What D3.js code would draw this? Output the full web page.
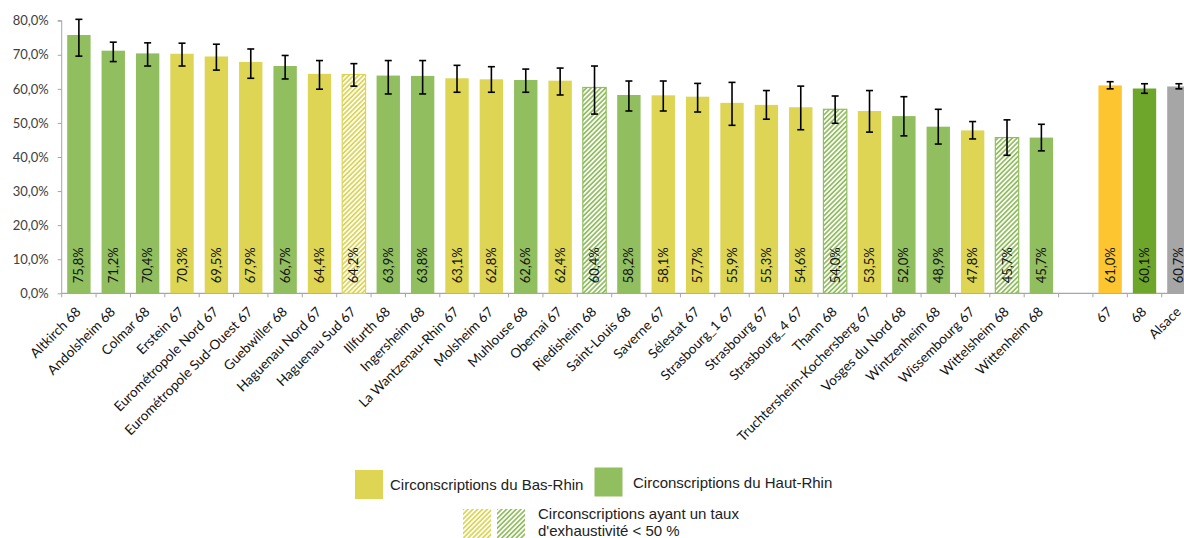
<!DOCTYPE html>
<html><head><meta charset="utf-8">
<script src="https://cdn.jsdelivr.net/npm/d3@7"></script>
<style>
html,body{margin:0;padding:0;background:#fff;}
svg{display:block;}
</style></head>
<body>
<svg id="chart" width="1184" height="538"></svg>
<script>
// ---- data ----
const categories = ["Altkirch 68","Andolsheim 68","Colmar 68","Erstein 67","Eurométropole Nord 67","Eurométropole Sud-Ouest 67","Guebwiller 68","Haguenau Nord 67","Haguenau Sud 67","Illfurth 68","Ingersheim 68","La Wantzenau-Rhin 67","Molsheim 67","Muhlouse 68","Obernai 67","Riedisheim 68","Saint-Louis 68","Saverne 67","Sélestat 67","Strasbourg_1 67","Strasbourg 67","Strasbourg_4 67","Thann 68","Truchtersheim-Kochersberg 67","Vosges du Nord 68","Wintzenheim 68","Wissembourg 67","Wittelsheim 68","Wittenheim 68","","67","68","Alsace"];
const values = [75.8,71.2,70.4,70.3,69.5,67.9,66.7,64.4,64.2,63.9,63.8,63.1,62.8,62.6,62.4,60.4,58.2,58.1,57.7,55.9,55.3,54.6,54.0,53.5,52.0,48.9,47.8,45.7,45.7,null,61.0,60.1,60.7];
const errLow  = [69.6,68.0,66.7,66.7,65.5,63.1,62.9,59.9,60.8,58.5,58.5,59.0,59.0,59.0,58.2,52.6,53.5,53.5,53.2,49.3,51.1,48.0,49.9,47.3,46.2,43.8,45.3,40.5,41.8,null,60.0,58.7,60.0];
const errHigh = [80.4,73.7,73.5,73.4,73.1,71.7,69.8,68.3,67.4,68.3,68.3,66.9,66.5,65.8,66.1,66.7,62.3,62.3,61.6,61.9,59.5,60.8,57.9,59.5,57.7,54.0,50.4,50.9,49.6,null,62.1,61.5,61.5];
// group: B = Bas-Rhin, H = Haut-Rhin, T67/T68/TA = totals
const groups = ["H","H","H","B","B","B","H","B","B","H","H","B","B","H","B","H","H","B","B","B","B","B","H","B","H","H","B","H","H","","T67","T68","TA"];
const lowExhaustivity = ["Haguenau Sud 67","Riedisheim 68","Thann 68","Wittelsheim 68"];
const yTicks = [0,10,20,30,40,50,60,70,80];
const legendLabels = ["Circonscriptions du Bas-Rhin","Circonscriptions du Haut-Rhin","Circonscriptions ayant un taux","d'exhaustivité < 50 %"];

// ---- styles ----
const colors = {B:"#DDD553", H:"#91BE5F", T67:"#FDC52F", T68:"#6EA52B", TA:"#A6A6A6"};
const hatchColors = {B:"#DDD553", H:"#91BE5F"};
const axisColor = "#A6A6A6";
const font = "Lato, 'Open Sans', sans-serif";

const svg = d3.select("#chart");
svg.append("rect").attr("width",1184).attr("height",538).attr("fill","#fff");

const defs = svg.append("defs");
Object.entries(hatchColors).forEach(([k,c])=>{
  const p = defs.append("pattern").attr("id","hatch"+k)
    .attr("patternUnits","userSpaceOnUse").attr("width",3.4).attr("height",3.4)
    .attr("patternTransform","rotate(45)");
  p.append("rect").attr("width",3.4).attr("height",3.4).attr("fill","#fff");
  p.append("rect").attr("x",0).attr("width",1.7).attr("height",3.4).attr("fill",c);
});

const x0 = 61.7, step = 34.375;
const idx = categories.map((d,i)=>i);
const x = d3.scaleBand().domain(idx).range([x0, x0 + step*categories.length]).paddingInner(0.32).paddingOuter(0.16);
const y = d3.scaleLinear().domain([0,80]).range([293.3, 20.7]);

// y axis
const yAxis = d3.axisLeft(y).tickValues(yTicks).tickSize(4).tickPadding(9)
  .tickFormat(d => d.toFixed(1).replace(".",",") + "%");
const gy = svg.append("g").attr("transform",`translate(${x0},0)`).call(yAxis);
gy.selectAll("path,line").attr("stroke",axisColor);
gy.select(".domain").attr("d",`M-4,${y(80)}H0V${y(0)}`);
gy.selectAll("text").attr("font-family",font).attr("font-size",13).attr("fill","#404040");

// x axis line + ticks at band boundaries
const xEnd = x0 + step*categories.length;
svg.append("line").attr("x1",x0).attr("x2",xEnd).attr("y1",y(0)).attr("y2",y(0)).attr("stroke",axisColor).attr("stroke-width",1.2);
const bounds = d3.range(categories.length+1).map(i => x0 + i*step);
svg.append("g").selectAll("line").data(bounds).join("line")
  .attr("x1",d=>d).attr("x2",d=>d).attr("y1",y(0)).attr("y2",y(0)+4).attr("stroke",axisColor);

// bars
const data = categories.map((c,i)=>({c, i, v:values[i], lo:errLow[i], hi:errHigh[i], g:groups[i], hatch: lowExhaustivity.includes(c)})).filter(d=>d.v!=null);

svg.append("g").selectAll("rect").data(data).join("rect")
  .attr("x",d=>x(d.i)).attr("width",x.bandwidth())
  .attr("y",d=>y(d.v)).attr("height",d=>y(0)-y(d.v))
  .attr("fill",d=>d.hatch ? `url(#hatch${d.g})` : colors[d.g])
  .attr("stroke",d=>colors[d.g]).attr("stroke-width",d=>d.hatch?1.2:0);

// error bars
const eb = svg.append("g").attr("stroke","#000").attr("stroke-width",1.6);
data.forEach(d=>{
  const cx = x(d.i) + x.bandwidth()/2;
  eb.append("line").attr("x1",cx).attr("x2",cx).attr("y1",y(d.hi)).attr("y2",y(d.lo));
  eb.append("line").attr("x1",cx-3.5).attr("x2",cx+3.5).attr("y1",y(d.hi)).attr("y2",y(d.hi));
  eb.append("line").attr("x1",cx-3.5).attr("x2",cx+3.5).attr("y1",y(d.lo)).attr("y2",y(d.lo));
});

// value labels inside bars
svg.append("g").selectAll("text").data(data).join("text")
  .attr("transform",d=>`translate(${x(d.i)+x.bandwidth()/2},${y(0)-10}) rotate(-90)`)
  .attr("dy","0.35em").attr("text-anchor","start")
  .attr("font-family",font).attr("font-size",13).attr("fill","#111")
  .text(d=>d.v.toFixed(1).replace(".",",")+"%");

// category labels
svg.append("g").selectAll("text").data(data).join("text")
  .attr("transform",d=>`translate(${x(d.i)+x.bandwidth()/2-4},${306}) rotate(-45)`)
  .attr("dy","0.71em").attr("text-anchor","end")
  .attr("font-family",font).attr("font-size",13.5).attr("fill","#111")
  .text(d=>d.c);

// legend
const lf = "'Liberation Sans', Arial, sans-serif";
const lg = svg.append("g").attr("font-family",lf).attr("font-size",15).attr("fill","#222");
lg.append("rect").attr("x",355).attr("y",470).attr("width",28).attr("height",29).attr("fill",colors.B);
lg.append("text").attr("x",390).attr("y",485).attr("dy","0.35em").text(legendLabels[0]);
lg.append("rect").attr("x",594.5).attr("y",467.5).attr("width",28).attr("height",29).attr("fill",colors.H);
lg.append("text").attr("x",633).attr("y",482.5).attr("dy","0.35em").text(legendLabels[1]);
lg.append("rect").attr("x",463).attr("y",509).attr("width",28).attr("height",30).attr("fill","url(#hatchB)");
lg.append("rect").attr("x",497).attr("y",509).attr("width",28).attr("height",30).attr("fill","url(#hatchH)");
lg.append("text").attr("x",538).attr("y",514).attr("dy","0.35em").text(legendLabels[2]);
lg.append("text").attr("x",538).attr("y",530.5).attr("dy","0.35em").text(legendLabels[3]);
</script>
</body></html>
